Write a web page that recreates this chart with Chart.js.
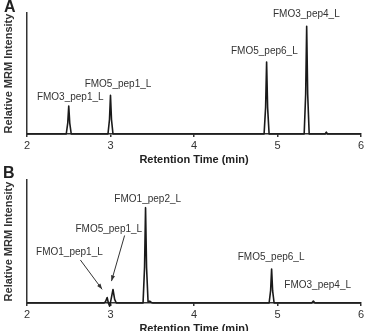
<!DOCTYPE html>
<html>
<head>
<meta charset="utf-8">
<script src="https://cdn.jsdelivr.net/npm/chart.js@4/dist/chart.umd.min.js"></script>
<style>
  html, body { margin: 0; padding: 0; background: #fff; overflow: hidden; }
  body { width: 367px; height: 331px; position: relative; }
  canvas { position: absolute; left: 0; }
  #chartA { top: 0; }
  #chartB { top: 165px; }
</style>
</head>
<body>
<canvas id="chartA" width="367" height="165"></canvas>
<canvas id="chartB" width="367" height="169"></canvas>
<script>
// Panel A - retention time (min) vs relative MRM intensity
const timeA = [2.00, 2.47, 2.488, 2.50, 2.512, 2.53,
               2.97, 2.988, 3.00, 3.012, 3.03,
               4.84, 4.858, 4.87, 4.882, 4.90,
               5.32, 5.338, 5.35, 5.362, 5.38,
               5.57, 5.585, 5.60, 6.00];
const intensityA = [0, 0, 0.09, 0.23, 0.09, 0,
                    0, 0.12, 0.32, 0.12, 0,
                    0, 0.22, 0.595, 0.22, 0,
                    0, 0.33, 0.89, 0.33, 0,
                    0, 0.015, 0, 0];
const peaksA = ['FMO3_pep1_L', 'FMO5_pep1_L', 'FMO5_pep6_L', 'FMO3_pep4_L'];

// Panel B
const timeB = [2.00, 2.92, 2.94, 2.96, 2.975, 2.99, 3.01, 3.03, 3.05, 3.07,
               3.39, 3.408, 3.42, 3.432, 3.45, 3.47, 3.49, 3.51,
               4.90, 4.918, 4.93, 4.942, 4.96,
               5.41, 5.43, 5.45, 6.00];
const intensityB = [0, 0, 0.01, 0.045, 0, -0.025, 0.04, 0.11, 0.03, 0,
                    0, 0.29, 0.775, 0.29, 0.01, 0.015, 0.005, 0,
                    0, 0.1, 0.276, 0.1, 0,
                    0, 0.015, 0, 0];
const peaksB = ['FMO1_pep2_L', 'FMO5_pep1_L', 'FMO1_pep1_L', 'FMO5_pep6_L', 'FMO3_pep4_L'];

const xTicks = [2, 3, 4, 5, 6];

Chart.defaults.font.family = '"Liberation Sans", Arial, sans-serif';

// peak names, panel letters and arrows, placed in data units
const annotate = {
  id: 'annotate',
  afterDatasetsDraw(chart, args, opts) {
    const ctx = chart.ctx;
    const sx = chart.scales.x, sy = chart.scales.y;
    const px = p => [sx.getPixelForValue(p[0]), sy.getPixelForValue(p[1])];
    ctx.save();
    ctx.fillStyle = '#333';
    ctx.font = '10px "Liberation Sans", Arial, sans-serif';
    ctx.textAlign = 'center';
    ctx.textBaseline = 'middle';
    opts.names.forEach((name, i) => {
      const [x, y] = px(opts.at[i]);
      ctx.fillText(name, x, y - 1);
    });
    ctx.strokeStyle = '#333';
    ctx.lineWidth = 1;
    (opts.arrows || []).forEach(a => {
      const [x1, y1] = px(a[0]);
      const [x2, y2] = px(a[1]);
      const ang = Math.atan2(y2 - y1, x2 - x1);
      ctx.beginPath();
      ctx.moveTo(x1, y1);
      ctx.lineTo(x2, y2);
      ctx.stroke();
      ctx.beginPath();
      ctx.moveTo(x2, y2);
      ctx.lineTo(x2 - 6 * Math.cos(ang - 0.35), y2 - 6 * Math.sin(ang - 0.35));
      ctx.lineTo(x2 - 6 * Math.cos(ang + 0.35), y2 - 6 * Math.sin(ang + 0.35));
      ctx.closePath();
      ctx.fillStyle = '#333';
      ctx.fill();
    });
    ctx.fillStyle = '#222';
    ctx.font = 'bold 16px "Liberation Sans", Arial, sans-serif';
    ctx.textAlign = 'left';
    ctx.textBaseline = 'alphabetic';
    ctx.fillText(opts.letter, opts.letterPos[0], opts.letterPos[1]);
    ctx.restore();
  }
};

function chromatogram(id, times, levels, padTop, panel) {
  return new Chart(document.getElementById(id), {
    type: 'line',
    data: {
      datasets: [{
        data: times.map((t, i) => ({ x: t, y: levels[i] })),
        borderColor: '#1a1a1a',
        borderWidth: 1.6,
        borderJoinStyle: 'round',
        pointRadius: 0,
        tension: 0,
        clip: false
      }]
    },
    options: {
      responsive: false,
      animation: false,
      devicePixelRatio: 1,
      layout: { padding: { top: padTop, right: 5, left: 0, bottom: 0 } },
      plugins: { legend: { display: false }, tooltip: { enabled: false }, annotate: panel },
      scales: {
        x: {
          type: 'linear', min: 2, max: 6,
          afterBuildTicks: s => { s.ticks = xTicks.map(v => ({ value: v })); },
          ticks: { color: '#333', padding: 3, font: { size: 11, lineHeight: 1 } },
          grid: { display: true, drawOnChartArea: false, drawTicks: true, tickLength: 3, color: '#333', lineWidth: 1.5 },
          border: { color: '#333', width: 1.5 },
          title: { display: true, text: 'Retention Time (min)', color: '#222',
                   font: { size: 11, weight: 'bold', lineHeight: 1 }, padding: { top: 0, bottom: 0 } }
        },
        y: {
          min: 0, max: 1,
          ticks: { display: false },
          grid: { display: false, drawTicks: false },
          border: { color: '#333', width: 1.5 },
          title: { display: true, text: 'Relative MRM Intensity', color: '#333',
                   font: { size: 11, weight: 'bold', lineHeight: 1 }, padding: { top: 3, bottom: 13 } }
        }
      }
    },
    plugins: [annotate]
  });
}

chromatogram('chartA', timeA, intensityA, 13, {
  names: peaksA,
  at: [[2.518, 0.293], [3.09, 0.403], [4.843, 0.676], [5.346, 0.98]],
  letter: 'A', letterPos: [4, 11.7]
});

chromatogram('chartB', timeB, intensityB, 15, {
  names: peaksB,
  at: [[3.446, 0.837], [2.98, 0.589], [2.508, 0.403], [4.924, 0.364], [5.482, 0.135]],
  arrows: [[[2.639, 0.35], [2.90, 0.111]], [[3.169, 0.549], [3.012, 0.178]]],
  letter: 'B', letterPos: [3, 13.3]
});
</script>
</body>
</html>
